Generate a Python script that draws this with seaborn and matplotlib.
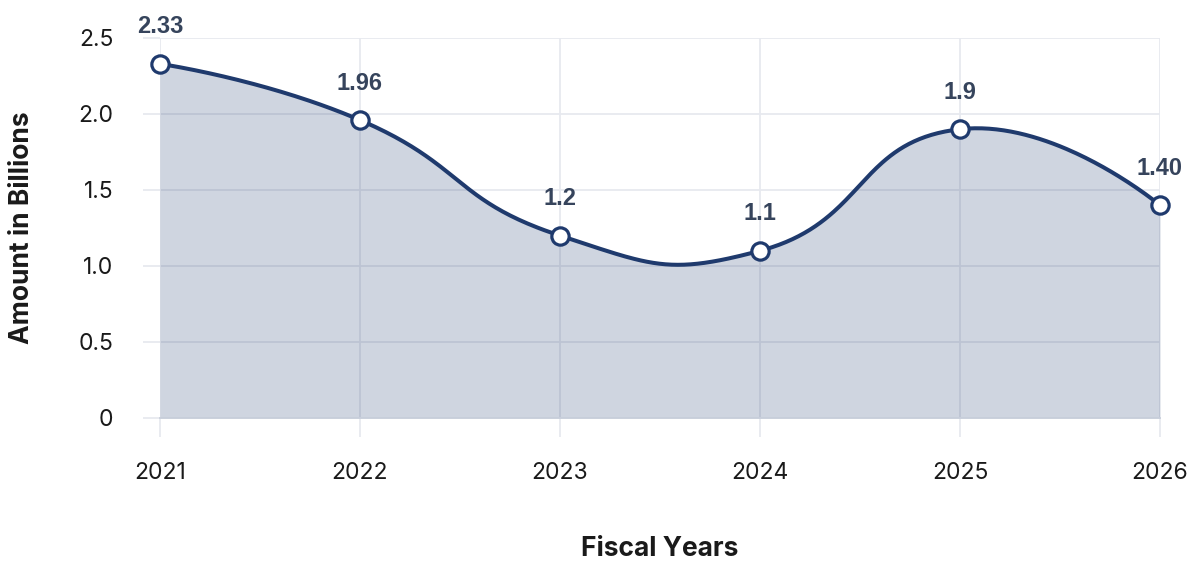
import numpy as np
import pandas as pd
import matplotlib
matplotlib.use("Agg")
import matplotlib.pyplot as plt
import seaborn as sns

# Fiscal-year amounts (billions)
years = [2021, 2022, 2023, 2024, 2025, 2026]
amounts = [2.33, 1.96, 1.2, 1.1, 1.9, 1.40]
value_labels = ["2.33", "1.96", "1.2", "1.1", "1.9", "1.40"]
y_ticks = [0, 0.5, 1.0, 1.5, 2.0, 2.5]
y_tick_labels = ["0", "0.5", "1.0", "1.5", "2.0", "2.5"]

LINE = "#1f3a6d"
FILL = "#1f3a6d"
GRID = "#e7e9ef"
TEXT = "#1a1a1a"
LABEL = "#36445c"


def smooth_path(px, py, smooth=0.5, n=80):
    """Bezier spline through points given in display pixels.

    Control points follow the neighbour chord, split by segment length;
    end points use themselves as control points.
    """
    px = np.asarray(px, float)
    py = np.asarray(py, float)
    m = len(px)
    c_in = [None] * m
    c_out = [None] * m
    c_out[0] = (px[0], py[0])
    c_in[-1] = (px[-1], py[-1])
    for i in range(1, m - 1):
        vx = px[i + 1] - px[i - 1]
        vy = py[i + 1] - py[i - 1]
        d0 = np.hypot(px[i] - px[i - 1], py[i] - py[i - 1])
        d1 = np.hypot(px[i + 1] - px[i], py[i + 1] - py[i])
        r = d1 / (d0 + d1)
        c_in[i] = (px[i] - vx * smooth * (1 - r), py[i] - vy * smooth * (1 - r))
        c_out[i] = (px[i] + vx * smooth * r, py[i] + vy * smooth * r)
    t = np.linspace(0, 1, n)[1:, None]
    pts = [np.array([[px[0], py[0]]])]
    for i in range(1, m):
        p0 = np.array([px[i - 1], py[i - 1]])
        p1 = np.array(c_out[i - 1])
        p2 = np.array(c_in[i])
        p3 = np.array([px[i], py[i]])
        seg = ((1 - t) ** 3) * p0 + 3 * ((1 - t) ** 2) * t * p1 \
            + 3 * (1 - t) * t ** 2 * p2 + t ** 3 * p3
        pts.append(seg)
    return np.vstack(pts)


df = pd.DataFrame({"year": years, "amount": amounts})

sns.set_theme(style="white")
plt.rcParams["font.family"] = ["Inter", "DejaVu Sans"]

fig = plt.figure(figsize=(11.98, 5.62), dpi=100)
ax = fig.add_axes([160 / 1198, 1 - 418 / 562, 1000 / 1198, 380 / 562])
ax.set_xlim(years[0], years[-1])
ax.set_ylim(0, 2.5)

# Build the smooth curve in screen space, then map back to data units
disp = ax.transData.transform(df[["year", "amount"]].to_numpy())
curve_disp = smooth_path(disp[:, 0], disp[:, 1])
curve_data = ax.transData.inverted().transform(curve_disp)
curve = pd.DataFrame({"year": curve_data[:, 0], "amount": curve_data[:, 1]})

ax.fill_between(curve["year"], curve["amount"], 0, color=FILL, alpha=0.21,
                linewidth=0, zorder=1)
sns.lineplot(data=curve, x="year", y="amount", ax=ax, color=LINE,
             linewidth=2.9, sort=False, zorder=3)
sns.scatterplot(data=df, x="year", y="amount", ax=ax, s=155, color="white",
                edgecolor=LINE, linewidth=2.3, zorder=4, clip_on=False)

for x, y, lab in zip(years, amounts, value_labels):
    ax.annotate(lab, (x, y), xytext=(0, 22), textcoords="offset points",
                ha="center", va="baseline", fontsize=17, fontweight="bold",
                color=LABEL, family=["Liberation Sans", "DejaVu Sans"],
                annotation_clip=False)

ax.set_xlim(years[0], years[-1])
ax.set_ylim(0, 2.5)
ax.set_xticks(years)
ax.set_xticklabels([str(y) for y in years])
ax.set_yticks(y_ticks)
ax.set_yticklabels(y_tick_labels)

ax.grid(True, color=GRID, linewidth=1.3, zorder=0)
ax.set_axisbelow(True)
for side in ["top", "right", "left"]:
    ax.spines[side].set_visible(False)
ax.spines["bottom"].set_color("#c9cfdb")
ax.spines["bottom"].set_linewidth(1.3)

ax.tick_params(axis="x", length=13.5, width=1.3, color=GRID, pad=18,
               labelsize=16.5, labelcolor=TEXT, bottom=True)
ax.tick_params(axis="y", length=12.5, width=1.3, color=GRID, pad=21,
               labelsize=16.5, labelcolor=TEXT, left=True)

ax.set_xlabel("Fiscal Years", fontsize=19, fontweight="bold", color=TEXT)
ax.xaxis.set_label_coords(0.5, (418 - 549) / 380)
ax.xaxis.label.set_va("center")
ax.set_ylabel("Amount in Billions", fontsize=19, fontweight="bold", color=TEXT)
ax.yaxis.set_label_coords((22 - 160) / 1000, 0.5)
ax.yaxis.label.set_va("center")

fig.savefig("out.png", dpi=100)
